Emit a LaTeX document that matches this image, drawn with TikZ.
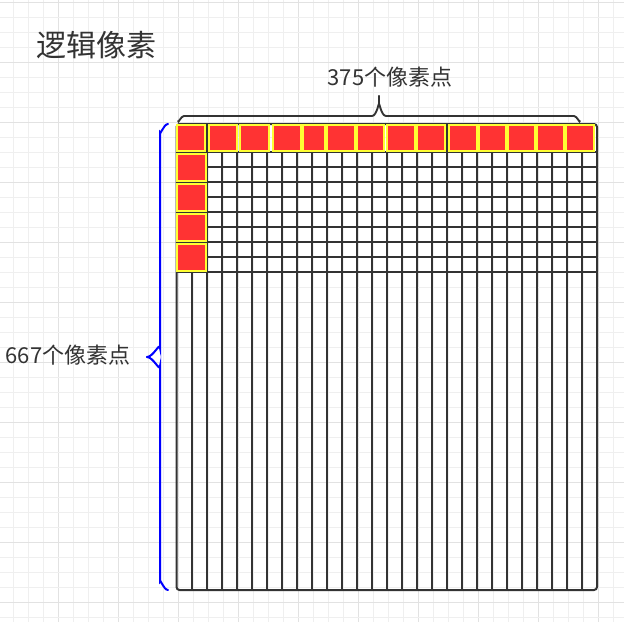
\documentclass[tikz,border=0pt]{standalone}
\usepackage{fontspec}
\setmainfont{Noto Sans CJK SC}
\definecolor{ink}{HTML}{333333}
\definecolor{cellred}{HTML}{FF3333}
\definecolor{cellyel}{HTML}{FFFF33}
\definecolor{bluebr}{HTML}{0000FF}
\definecolor{bgminor}{HTML}{EFEFEF}
\definecolor{bgmajor}{HTML}{E2E2E2}
\tikzset{
  bgline/.style={draw=bgminor, line width=0.9pt},
  bgmaj/.style={draw=bgmajor, line width=0.9pt},
  gridline/.style={draw=ink, line width=2pt},
  redcell/.style={draw=cellyel, fill=cellred, line width=2pt, inner sep=0pt, outer sep=0pt},
  bracket/.style={draw=ink, line width=1.9pt, line cap=round},
  bluebracket/.style={draw=bluebr, line width=2pt, line cap=round},
  lbl/.style={text=ink, inner sep=0pt, font=\fontsize{22}{22}\selectfont},
  ttl/.style={text=ink, inner sep=0pt, font=\fontsize{30}{30}\selectfont},
}
\begin{document}
\begin{tikzpicture}[x=1pt, y=-1pt]
\useasboundingbox (0,0) rectangle (624,622);
\fill[white] (0,0) rectangle (624,622);
% background grid
\foreach \k in {0,...,41} {
  \pgfmathtruncatemacro{\m}{mod(\k,4)}
  \ifnum\m=3
    \draw[bgmaj] ({13.7+15*\k},0) -- ({13.7+15*\k},622);
  \else
    \draw[bgline] ({13.7+15*\k},0) -- ({13.7+15*\k},622);
  \fi
}
\foreach \k in {0,...,41} {
  \pgfmathtruncatemacro{\m}{mod(\k,4)}
  \ifnum\m=0
    \draw[bgmaj] (0,{2.3+15*\k}) -- (624,{2.3+15*\k});
  \else
    \draw[bgline] (0,{2.3+15*\k}) -- (624,{2.3+15*\k});
  \fi
}
% pixel grid
\foreach \i in {1,...,27}
  \draw[gridline] ({176.5+\i*15.02},124) -- ({176.5+\i*15.02},590);
\foreach \j in {0,...,8}
  \draw[gridline] (176.5,{152+15*\j}) -- (597,{152+15*\j});
\draw[gridline, rounded corners=3pt] (176.5,124) rectangle (597,590);
% top row of red cells
\foreach \a/\b [count=\i] in {176/206, 207.7/238.3, 239.3/270, 271.7/301.7, 301.7/326, 326/355.5, 355.5/385, 385.7/416, 416/445.7, 447.7/477.7, 477.7/506.7, 506.7/536, 536/565, 565/595}
  \node[redcell, minimum width={(\b-\a-2)*1pt}, minimum height=26pt] (top\i) at ({(\a+\b)/2},137.9) {};
% left column of red cells
\foreach \a/\b [count=\i] in {152.7/181.7, 182.7/211.7, 212.7/241.7, 242.7/271.7}
  \node[redcell, minimum width=28.7pt, minimum height={(\b-\a-2)*1pt}] (left\i) at (191.35,{(\a+\b)/2}) {};
% top brace
\draw[bracket] (178,121) to[out=-90,in=180] (184,116) -- (372,116) to[out=0,in=90] (379,105) -- (379,96);
\draw[bracket] (379,96) -- (379,105) to[out=90,in=180] (386,116) -- (574,116) to[out=0,in=-90] (580,121);
% left brace
\draw[bluebracket] (168,124) to[out=180,in=-90] (160,132) -- (160,348) to[out=90,in=0] (147,357);
\draw[bluebracket] (147,357) to[out=0,in=-90] (160,366) -- (160,582) to[out=90,in=180] (168,590);
% labels
\node[ttl] (title) at (96,45) {逻辑像素};
\node[lbl] (wlabel) at (390,77) {375个像素点};
\node[lbl] (hlabel) at (68,355) {667个像素点};
\end{tikzpicture}
\end{document}
